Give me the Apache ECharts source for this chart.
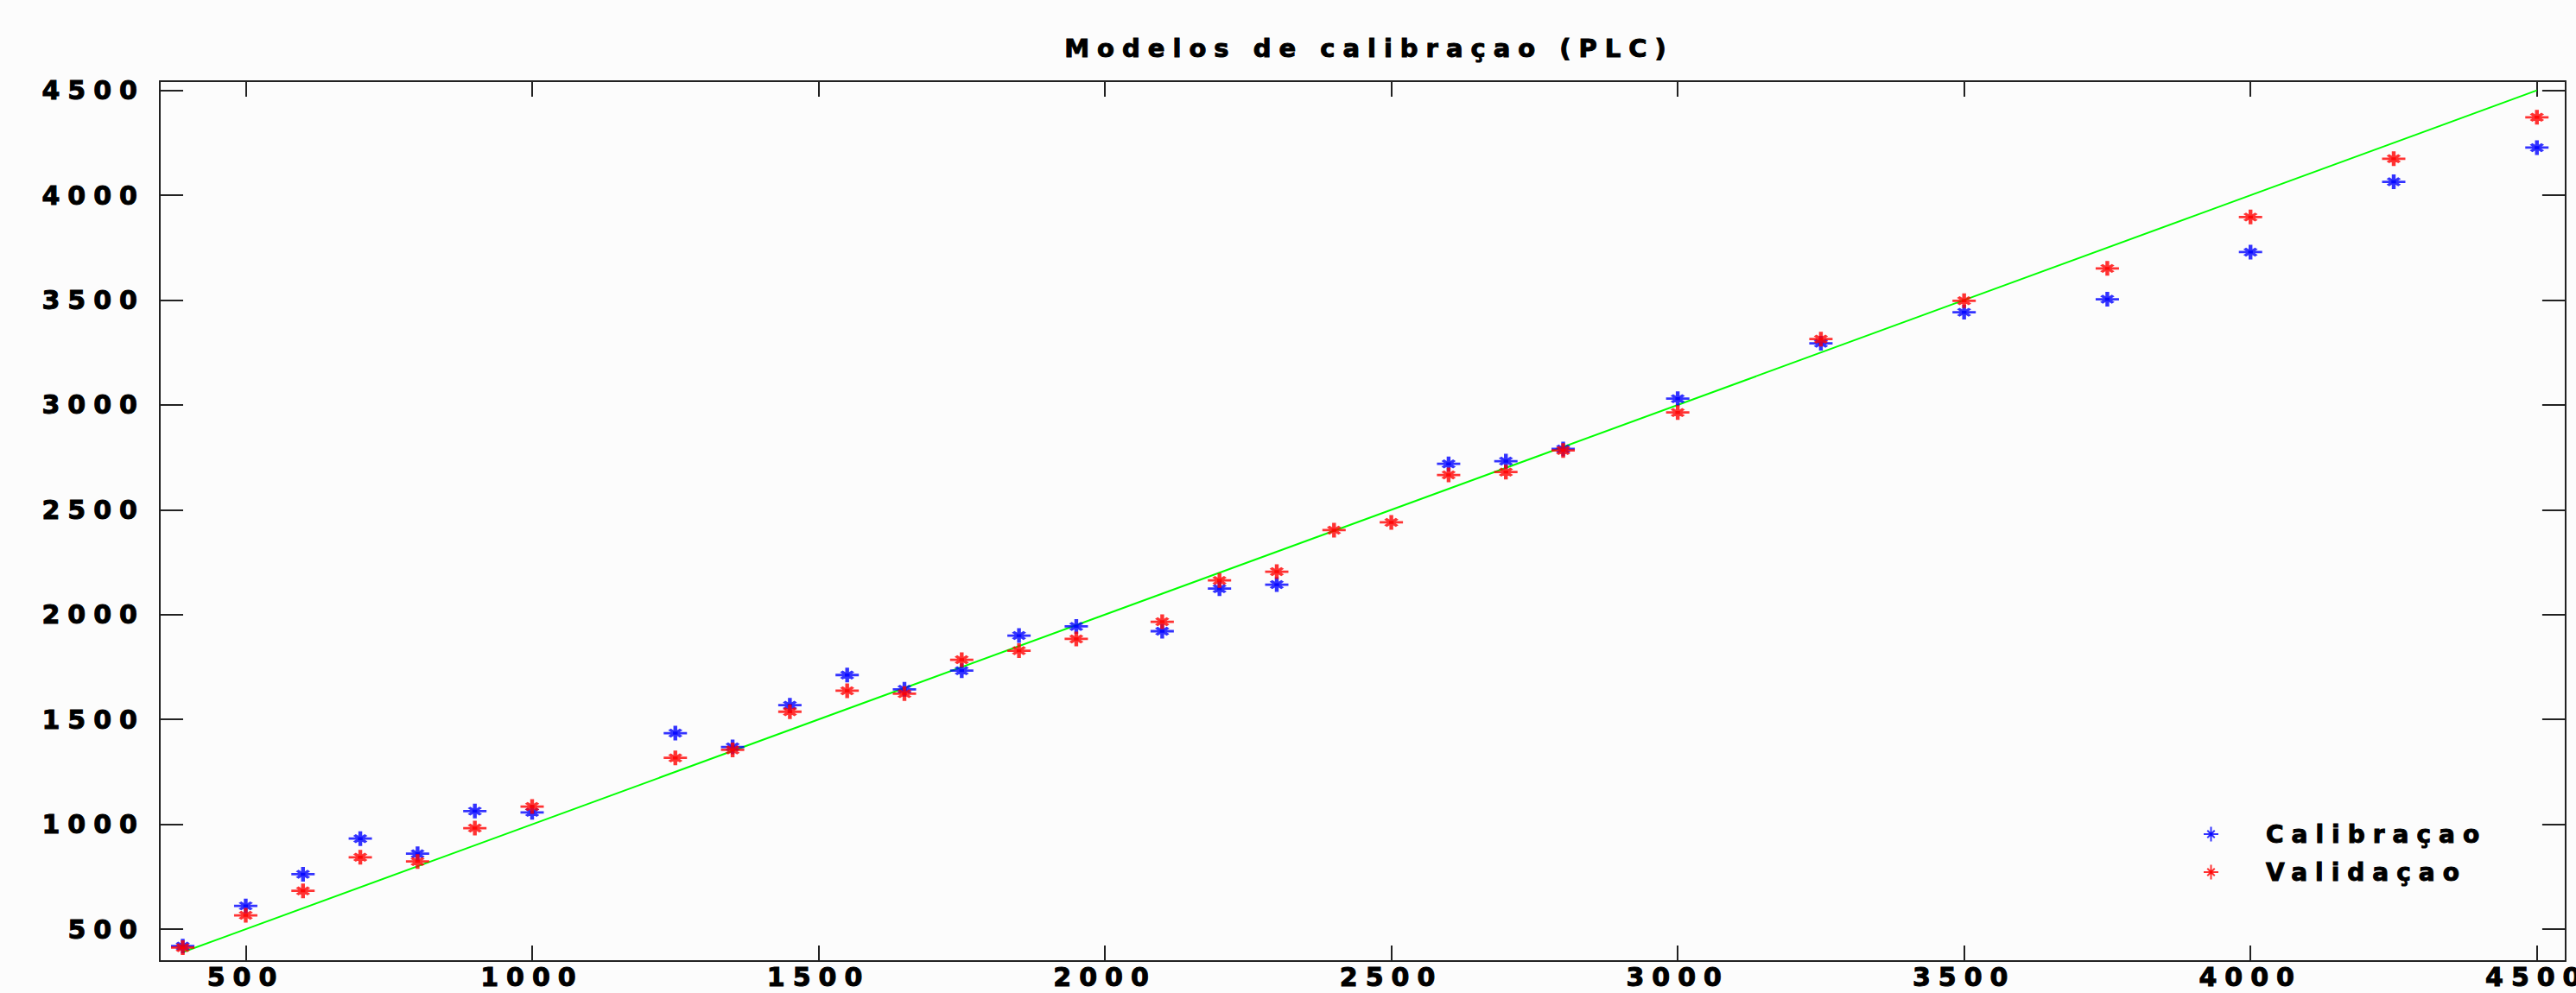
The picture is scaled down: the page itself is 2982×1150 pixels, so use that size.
<!DOCTYPE html>
<html>
<head>
<meta charset="utf-8">
<script src="https://cdn.jsdelivr.net/npm/echarts@6/dist/echarts.min.js"></script>
<style>
  html, body { margin: 0; padding: 0; background: #fcfcfc; }
  #main { width: 2982px; height: 1150px; }
  /* the original text is very wide, so space the letters out */
  #main text { letter-spacing: 9px; }
</style>
</head>
<body>
<div id="main"></div>
<script>
const ticks = [500, 1000, 1500, 2000, 2500, 3000, 3500, 4000, 4500];

const calibX = [390, 500, 600, 700, 800, 900, 1000, 1250, 1350, 1450, 1550, 1650, 1750, 1850, 1950, 2100, 2200, 2300, 2600, 2700, 2800, 3000, 3250, 3500, 3750, 4000, 4250, 4500];
const calibY = [419, 611, 762, 932, 860, 1063, 1057, 1435, 1369, 1568, 1712, 1644, 1733, 1900, 1944, 1921, 2124, 2143, 2719, 2732, 2790, 3030, 3294, 3442, 3504, 3729, 4064, 4227];

const validX = [390, 500, 600, 700, 800, 900, 1000, 1250, 1350, 1450, 1550, 1650, 1750, 1850, 1950, 2100, 2200, 2300, 2400, 2500, 2600, 2700, 2800, 3000, 3250, 3500, 3750, 4000, 4250, 4500];
const validY = [412, 566, 683, 843, 823, 982, 1085, 1317, 1355, 1537, 1637, 1623, 1785, 1828, 1884, 1966, 2163, 2205, 2403, 2440, 2666, 2680, 2783, 2964, 3314, 3497, 3651, 3896, 4174, 4372];

// y = x reference line ends
const refLine = [390, 4500];

const font = 'DejaVu Sans';
const star = 'path://M0 10L20 10M10 0L10 20M5 5L15 15M15 5L5 15M8 8L12 8L12 12L8 12Z';

const chart = echarts.init(document.getElementById('main'), null, { renderer: 'svg' });

function axis(pos, min, max, tickLen, showLabel, margin) {
  return {
    type: 'value',
    position: pos,
    min: min,
    max: max,
    splitLine: { show: false },
    axisLine: { show: true, onZero: false, lineStyle: { color: '#222', width: 2 } },
    axisTick: { show: true, inside: true, length: tickLen, customValues: ticks, lineStyle: { color: '#222', width: 2 } },
    axisLabel: {
      show: showLabel,
      customValues: ticks,
      margin: margin,
      formatter: v => String(v),
      color: '#000',
      fontFamily: font,
      fontWeight: 'bold',
      fontSize: 30,
      lineHeight: 24,
      textBorderColor: '#000',
      textBorderWidth: 1
    }
  };
}

const option = {
  animation: false,
  backgroundColor: '#fcfcfc',
  title: {
    text: 'Modelos de calibraçao (PLC)',
    left: 1580,
    top: 36,
    textAlign: 'center',
    textStyle: { fontFamily: font, fontWeight: 'bold', fontSize: 29, color: '#000', textBorderColor: '#000', textBorderWidth: 1 }
  },
  grid: { left: 185, right: 10, top: 94, bottom: 37 },
  xAxis: [
    axis('bottom', 350, 4550, 18, true, 6),
    axis('top', 350, 4550, 18, false, 8)
  ],
  yAxis: [
    axis('left', 348, 4544, 27, true, 17),
    axis('right', 348, 4544, 27, false, 8)
  ],
  legend: {
    data: ['Calibraçao', 'Validaçao'],
    orient: 'vertical',
    left: 2545,
    top: 945,
    itemWidth: 27,
    itemHeight: 17,
    itemGap: 12,
    selectedMode: false,
    textStyle: { fontFamily: font, fontWeight: 'bold', fontSize: 28, color: '#000', lineHeight: 32, padding: [0, 0, 0, 45], textBorderColor: '#000', textBorderWidth: 1 }
  },
  series: [
    {
      type: 'line',
      data: refLine.map(v => [v, v]),
      symbol: 'none',
      silent: true,
      z: 1,
      lineStyle: { color: '#00ff00', width: 2 }
    },
    {
      name: 'Calibraçao',
      type: 'scatter',
      data: calibX.map((x, i) => [x, calibY[i]]),
      symbol: star,
      symbolSize: [27, 17],
      z: 2,
      itemStyle: { color: '#0000ff', borderColor: '#0000ff', borderWidth: 3.5 }
    },
    {
      name: 'Validaçao',
      type: 'scatter',
      data: validX.map((x, i) => [x, validY[i]]),
      symbol: star,
      symbolSize: [27, 17],
      z: 3,
      itemStyle: { color: '#ff0000', borderColor: '#ff0000', borderWidth: 3.5 }
    }
  ]
};

chart.setOption(option);
</script>
</body>
</html>
